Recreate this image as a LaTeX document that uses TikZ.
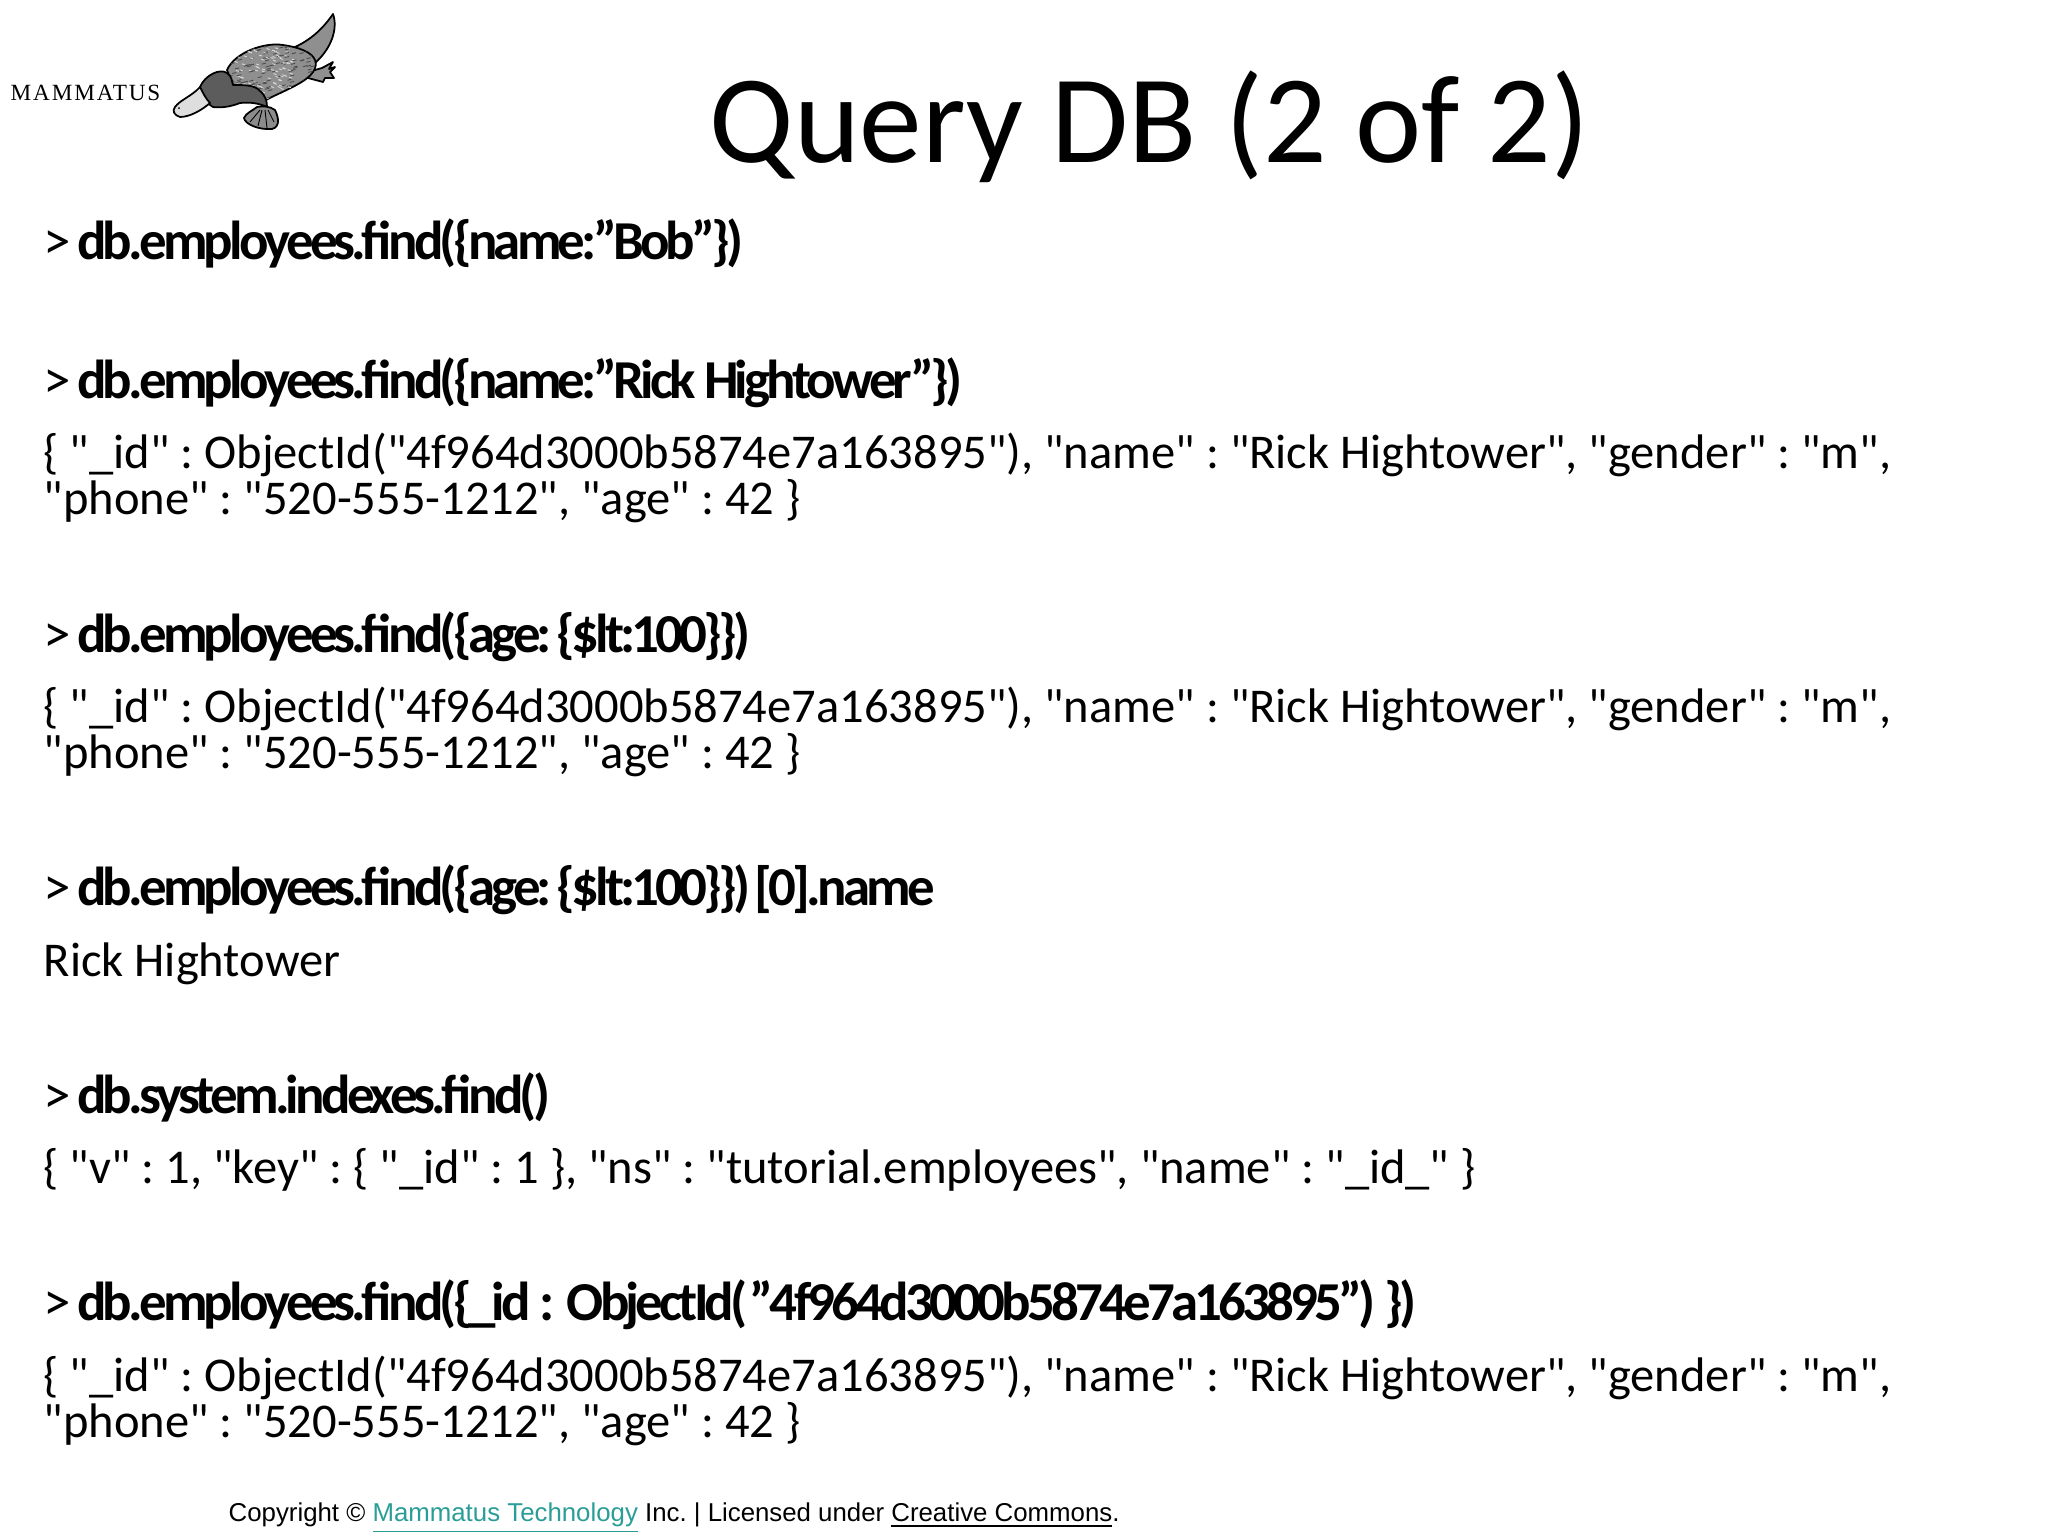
\documentclass[tikz,border=0pt]{standalone}
\usepackage{fontspec}
\usepackage{tikz}
\setmainfont{Carlito}[Ligatures=TeXOff]
\newfontfamily\cmdfont[LetterSpace=-6.9]{Carlito}
\newfontfamily\footfont{Liberation Sans}
\newfontfamily\logofont[LetterSpace=8]{Liberation Serif}
\definecolor{linkteal}{HTML}{2A9D97}
\definecolor{furgray}{HTML}{8F8F8F}
\definecolor{headgray}{HTML}{5C5C5C}
\definecolor{billgray}{HTML}{DEDEDE}
\frenchspacing
\tikzset{
  line/.style={anchor=base west,inner sep=0pt,font=\fontsize{13.8}{16}\selectfont},
  cmdline/.style={line,font=\fontsize{15.6}{18}\selectfont},
  sketch/.style={draw=black,line width=0.5pt,line join=round},
}
\newcommand{\cmd}[1]{>\hspace{1.7pt}{\cmdfont\bfseries #1}}
\newcommand{\recid}{\{ "\_id" : ObjectId("4f964d3000b5874e7a163895"), "name" : "Rick Hightower", "gender" : "m",}
\newcommand{\recphone}{"phone" : "520-555-1212", "age" : 42 \}}

\begin{document}
\begin{tikzpicture}[x=0.01cm,y=-0.01cm]
  \useasboundingbox (0,0) rectangle (2048,1536);

  % Draw the logo
  \node[anchor=base west,inner sep=0pt,font=\fontsize{6.6}{8}\selectfont\logofont] (logotext) at (10,100) {MAMMATUS};
  \fill[furgray,sketch] (295,47) .. controls (310,40) and (322,30) .. (333,14) .. controls (338,28) and (332,48) .. (315,63) .. controls (308,55) and (300,50) .. (295,47) -- cycle;
  \fill[furgray,sketch] (308,72) -- (322,68) -- (333,62) -- (329,69) -- (335,67) -- (330,72) -- (334,78) -- (325,78) -- (323,82) -- (308,78) -- cycle;
  \fill[furgray,sketch] (227,70) .. controls (235,52) and (265,42) .. (283,45) .. controls (298,47) and (312,52) .. (315,60) .. controls (318,68) and (312,76) .. (300,83) .. controls (288,90) and (275,95) .. (262,102) -- (235,90) -- cycle;
  \begin{scope}
    \clip (227,70) .. controls (235,52) and (265,42) .. (283,45) .. controls (298,47) and (312,52) .. (315,60) .. controls (318,68) and (312,76) .. (300,83) .. controls (288,90) and (275,95) .. (262,102) -- (235,90) -- cycle;
    \pgfmathsetseed{7}
    \foreach \i in {1,...,160} {
      \pgfmathsetmacro{\fx}{225+92*rnd}
      \pgfmathsetmacro{\fy}{44+58*rnd}
      \draw[black!70,line width=0.25pt] (\fx,\fy) -- ++(4,-1);
      \draw[white!85!black,line width=0.25pt] (\fy+190,\fx-180) -- ++(3,1);
    }
  \end{scope}
  \fill[headgray,sketch] (200,87) .. controls (205,75) and (220,68) .. (227,73) .. controls (232,76) and (232,82) .. (233,85) .. controls (245,85) and (255,85) .. (260,91) .. controls (266,96) and (267,102) .. (267,107) .. controls (258,103) and (250,102) .. (240,103) .. controls (230,107) and (220,108) .. (213,107) .. controls (206,103) and (202,95) .. (200,87) -- cycle;
  \fill[billgray,sketch] (200,87) .. controls (203,93) and (206,99) .. (210,103) .. controls (202,110) and (190,117) .. (180,117) .. controls (174,115) and (172,111) .. (175,107) .. controls (180,100) and (192,96) .. (200,87) -- cycle;
  \fill[black] (179,108) circle (1);
  \fill[black!45,sketch] (257,107) .. controls (252,111) and (246,113) .. (244,118) .. controls (245,124) and (258,130) .. (272,129) .. controls (280,127) and (279,118) .. (275,110) .. controls (270,106) and (262,106) .. (257,107) -- cycle;
  \draw[black,line width=0.25pt] (260,110) -- (250,122) (262,110) -- (258,126) (265,110) -- (267,128) (268,110) -- (274,122);

  % Draw the title
  \node[anchor=base west,inner sep=0pt,font=\fontsize{35.65}{42}\selectfont] (title) at (709,162) {Query DB (2 of 2)};

  % Draw the queries and what they print
  \node[cmdline] (find bob) at (43,259) {\cmd{db.employees.find(\{name:”Bob”\})}};
  \node[cmdline] (find rick) at (43,398) {\cmd{db.employees.find(\{name:”Rick Hightower”\})}};
  \node[line] (rick id) at (43,468) {\recid};
  \node[line] (rick phone) at (43,514) {\recphone};
  \node[cmdline] (find age) at (43,652) {\cmd{db.employees.find(\{age:\kern1.2pt\{\$lt:100\}\})}};
  \node[line] (age id) at (43,722) {\recid};
  \node[line] (age phone) at (43,768) {\recphone};
  \node[cmdline] (find name) at (43,905) {\cmd{db.employees.find(\{age:\kern1.2pt\{\$lt:100\}\})\kern1pt[0].name}};
  \node[line] (name out) at (43,976) {Rick Hightower};
  \node[cmdline] (find index) at (43,1113) {\cmd{db.system.indexes.find()}};
  \node[line] (index out) at (43,1183) {\{ "v" : 1, "key" : \{ "\_id" : 1 \}, "ns" : "tutorial.employees", "name" : "\_id\_" \}};
  \node[cmdline] (find id) at (43,1320) {\cmd{db.employees.find(\{\_id : \kern1pt ObjectId(\kern0.6pt”4f964d3000b5874e7a163895”) \})}};
  \node[line] (id id) at (43,1391) {\recid};
  \node[line] (id phone) at (43,1437) {\recphone};

  % Draw the footer
  \node[anchor=base west,inner sep=0pt,font=\fontsize{7.34}{9}\selectfont\footfont] (footer) at (228,1521) {Copyright © \textcolor{linkteal}{\underline{Mammatus Technology}} Inc. | Licensed under \underline{Creative Commons}.};
\end{tikzpicture}
\end{document}
